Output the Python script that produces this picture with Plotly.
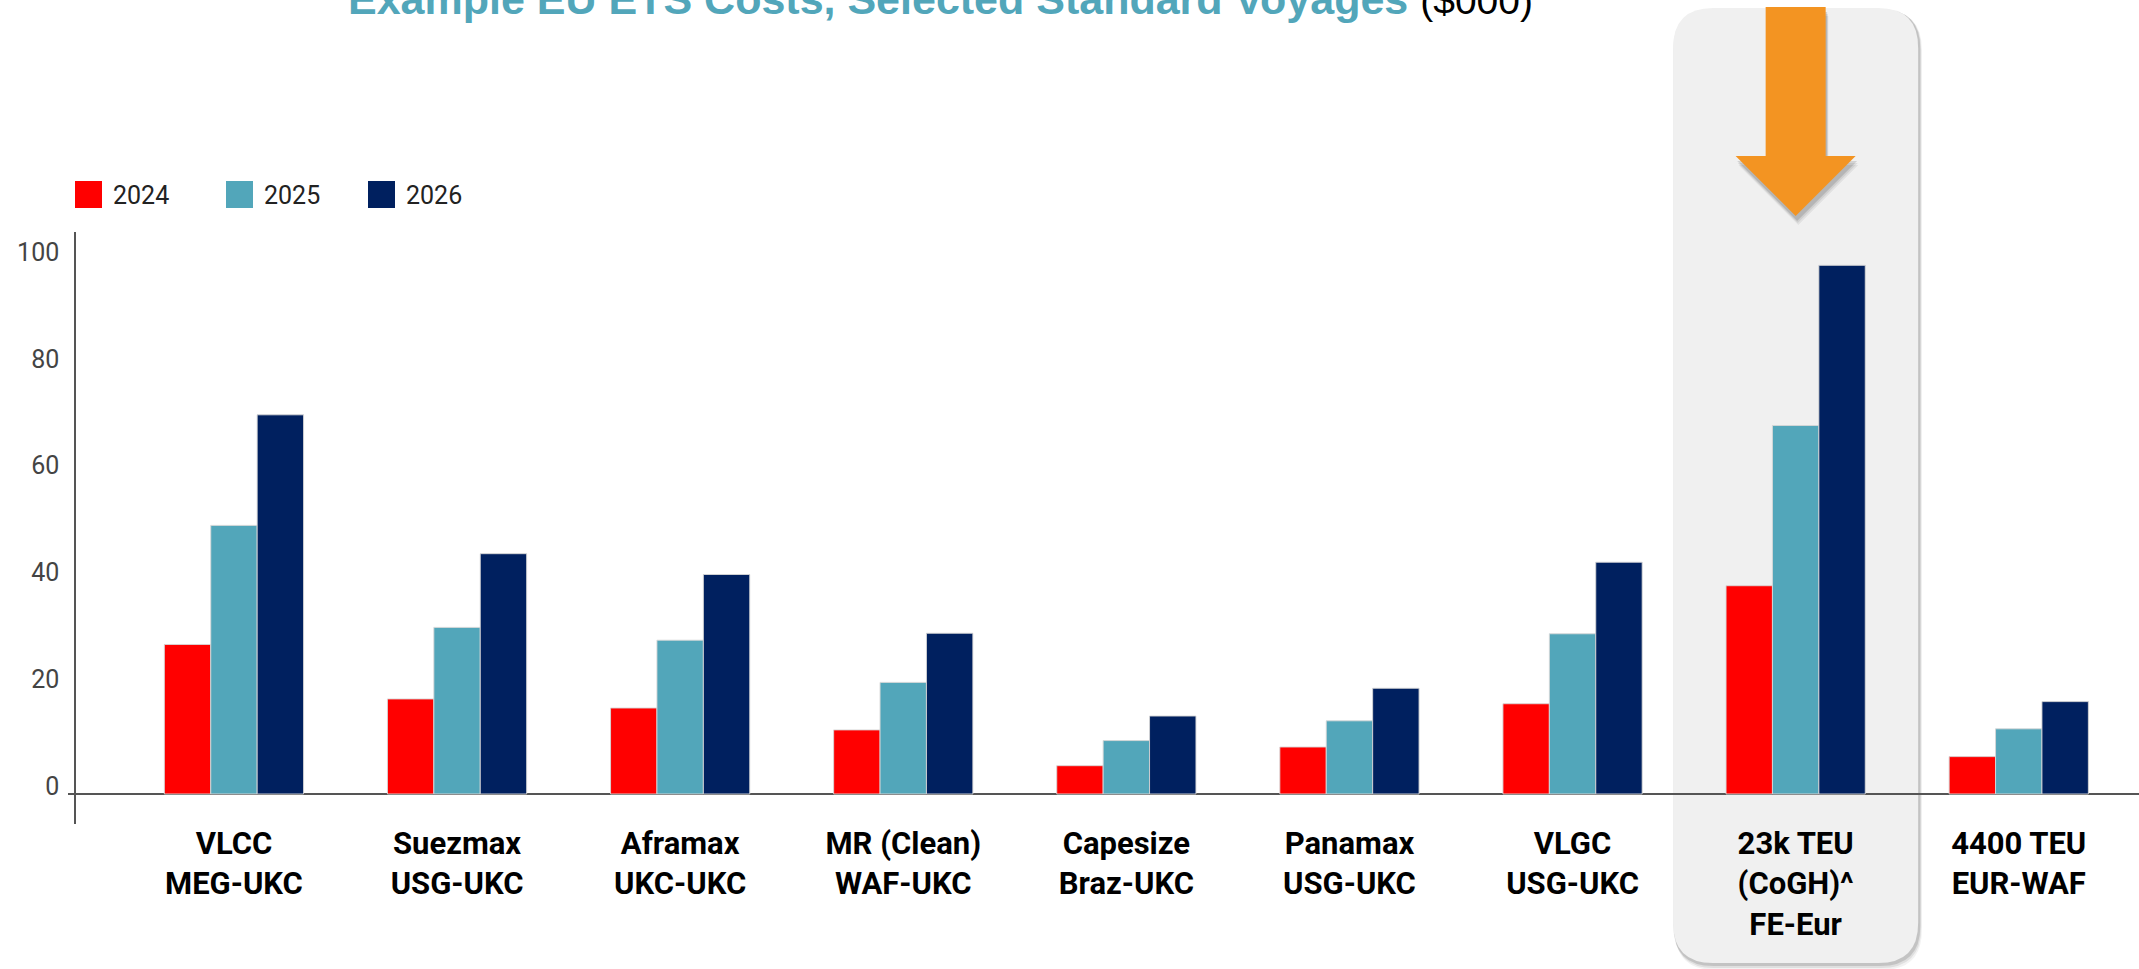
import plotly.graph_objects as go

# ---------------- data ----------------
categories = [
    "VLCC<br>MEG-UKC",
    "Suezmax<br>USG-UKC",
    "Aframax<br>UKC-UKC",
    "MR (Clean)<br>WAF-UKC",
    "Capesize<br>Braz-UKC",
    "Panamax<br>USG-UKC",
    "VLGC<br>USG-UKC",
    "23k TEU<br>(CoGH)^<br>FE-Eur",
    "4400 TEU<br>EUR-WAF",
]
series_names = ["2024", "2025", "2026"]
v2024 = [28.0, 17.8, 16.1, 12.0, 5.3, 8.8, 16.9, 39.0, 7.0]
v2025 = [50.3, 31.2, 28.8, 20.9, 10.0, 13.7, 30.0, 69.0, 12.2]
v2026 = [71.0, 45.0, 41.1, 30.1, 14.6, 19.8, 43.4, 99.0, 17.3]
y_ticks = [0, 20, 40, 60, 80, 100]
highlight_index = 7

title_main = "Example EU ETS Costs, Selected Standard Voyages"
title_unit = "($000)"

colors = ["#FF0000", "#52A6BA", "#00205F"]

# ---------------- layout geometry ----------------
W, H = 2139, 969
ML, MR, MT, MB = 76, 0, 232, 145
PW, PH = W - ML - MR, H - MT - MB
XR = [-0.708, 8.539]
YR = [-5.62, 105.24]


def px_x(p):
    return (p - ML) / PW


def px_y(p):
    return (H - MB - p) / PH


fig = go.Figure()
for name, vals, col in zip(series_names, [v2024, v2025, v2026], colors):
    fig.add_trace(go.Bar(
        x=categories, y=vals, name=name,
        marker=dict(color=col, line=dict(color="rgba(215,215,215,0.9)", width=1)),
        showlegend=False,
    ))

shapes = []

# highlight box (rounded, with soft shadow) around the highlighted category
cx = (highlight_index - XR[0]) / (XR[1] - XR[0])
half_w = 122.5 / PW
x0, x1 = cx - half_w, cx + half_w
y_top, y_bot = px_y(8), px_y(963)
rx, ry = 40 / PW, 40 / PH


def rounded(x0, x1, y0, y1):
    return (f"M {x0+rx},{y1} L {x1-rx},{y1} Q {x1},{y1} {x1},{y1-ry} "
            f"L {x1},{y0+ry} Q {x1},{y0} {x1-rx},{y0} L {x0+rx},{y0} "
            f"Q {x0},{y0} {x0},{y0+ry} L {x0},{y1-ry} Q {x0},{y1} {x0+rx},{y1} Z")


for off, op in [(7, 0.05), (5, 0.08), (3, 0.12)]:
    dx, dy = off * 0.4 / PW, off / PH
    shapes.append(dict(type="path", xref="paper", yref="paper", layer="below",
                       path=rounded(x0 + dx - 1 / PW, x1 + dx + 1 / PW, y_bot - dy, y_top - dy * 0.3),
                       fillcolor=f"rgba(0,0,0,{op})", line=dict(width=0)))
shapes.append(dict(type="path", xref="paper", yref="paper", layer="below",
                   path=rounded(x0, x1, y_bot, y_top),
                   fillcolor="#F0F0F0", line=dict(width=0)))

# orange arrow pointing at the highlighted category


def arrow(cxp, dxp=0.0, dyp=0.0):
    sw, hw = 30 / PW, 60 / PW
    yt, yh, ytip = px_y(7) - dyp, px_y(156) - dyp, px_y(216) - dyp
    c = cxp + dxp
    return (f"M {c-sw},{yt} L {c+sw},{yt} L {c+sw},{yh} L {c+hw},{yh} "
            f"L {c},{ytip} L {c-hw},{yh} L {c-sw},{yh} Z")


for off, op in [(9, 0.06), (7, 0.08), (5, 0.12)]:
    shapes.append(dict(type="path", xref="paper", yref="paper", layer="above",
                       path=arrow(cx, off * 0.3 / PW, off / PH),
                       fillcolor=f"rgba(0,0,0,{op})", line=dict(width=0)))
shapes.append(dict(type="path", xref="paper", yref="paper", layer="above",
                   path=arrow(cx), fillcolor="#F39422", line=dict(width=0)))

# short extension of the baseline to the left of the y axis
shapes.append(dict(type="line", xref="paper", yref="y", x0=px_x(68), x1=0, y0=0, y1=0,
                   line=dict(color="#555555", width=2)))

# custom legend (large swatches)
annotations = []
leg_x = [75, 226, 368]
for lx, name, col in zip(leg_x, series_names, colors):
    shapes.append(dict(type="rect", xref="paper", yref="paper",
                       x0=px_x(lx), x1=px_x(lx + 27), y0=px_y(208), y1=px_y(181),
                       fillcolor=col, line=dict(width=0)))
    annotations.append(dict(xref="paper", yref="paper", x=px_x(lx + 36), y=px_y(195),
                            xanchor="left", yanchor="middle", showarrow=False,
                            text=name, font=dict(family="Roboto", size=25, color="#222222")))

# title (partly cut at the top, as in the reference)
annotations.append(dict(
    xref="paper", yref="paper", x=px_x(346), y=px_y(-1), xanchor="left", yanchor="middle",
    showarrow=False,
    text=f"<b>{title_main}</b> <span style='color:#000000;font-size:39px'>{title_unit}</span>",
    font=dict(family="Liberation Sans", size=43, color="#52A6BA"),
))

fig.update_layout(
    width=W, height=H,
    margin=dict(l=ML, r=MR, t=MT, b=MB, pad=0),
    paper_bgcolor="white", plot_bgcolor="rgba(0,0,0,0)",
    barmode="group", bargap=0.376, bargroupgap=0.0,
    shapes=shapes, annotations=annotations,
    xaxis=dict(
        type="category", range=XR, showgrid=False, showline=False, ticks="",
        tickfont=dict(family="Roboto", size=31, color="#000000", weight="bold"),
        ticklabelstandoff=-2,
    ),
    yaxis=dict(
        range=YR, tickvals=y_ticks, showgrid=False, showline=True,
        linecolor="#555555", linewidth=1.5, ticks="",
        zeroline=True, zerolinecolor="#555555", zerolinewidth=2,
        tickfont=dict(family="Roboto", size=25, color="#444444"),
        ticklabelstandoff=10, ticklabelshift=-8,
    ),
)

fig.write_html("out.html", config={"displayModeBar": False},
               post_script="document.body.style.margin='0';")
